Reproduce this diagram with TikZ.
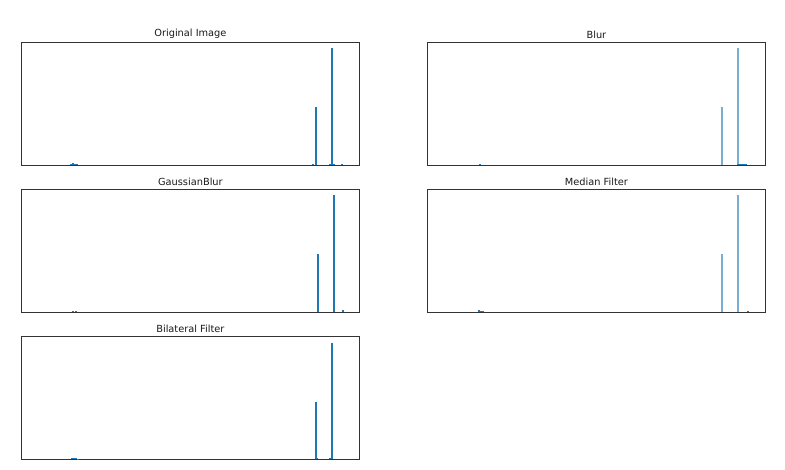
\documentclass[tikz,border=0pt]{standalone}
\usepackage{fontspec}
\setmainfont{DejaVu Sans}
\usepackage{xcolor}
\usetikzlibrary{positioning}
\definecolor{histblue}{HTML}{1F77B4}

\begin{document}
\begin{tikzpicture}[x=1pt, y=-1pt]
    % Tyylit
    \tikzstyle{panel} = [rectangle, draw=black!80, line width=0.8pt, minimum width=338pt, minimum height=123pt, inner sep=0pt, anchor=north west]
    \tikzstyle{plottitle} = [font=\fontsize{9.8}{11}\selectfont, text=black!90, inner sep=0pt]
    \tikzstyle{spike} = [histblue, line width=1.3pt]
    \tikzstyle{fatspike} = [histblue, line width=2.2pt]
    \tikzstyle{softspike} = [histblue!60, line width=1.5pt]
    \tikzstyle{bump} = [histblue, line width=1.5pt]

    \useasboundingbox (0,0) rectangle (785,470);

    % Kehykset
    \node (orig) [panel] at (21,42) {};
    \node (blur) [panel] at (427,42) {};
    \node (gauss) [panel] at (21,189) {};
    \node (median) [panel] at (427,189) {};
    \node (bilat) [panel] at (21,336) {};

    % Otsikot
    \node (origtitle) [plottitle, above=3pt of orig] {Original Image};
    \node (blurtitle) [plottitle, above=3pt of blur] {Blur};
    \node (gausstitle) [plottitle, above=3pt of gauss] {GaussianBlur};
    \node (mediantitle) [plottitle, above=3pt of median] {Median Filter};
    \node (bilattitle) [plottitle, above=3pt of bilat] {Bilateral Filter};

    % Original Image
    \draw [spike] (316,165) -- (316,107);
    \draw [fatspike] (332,165) -- (332,48);
    \draw [bump] (71,165) -- (71,164) (73,165) -- (73,163) (75,165) -- (75,164) (77,165) -- (77,164.3);
    \draw [bump] (313,165) -- (313,164.3) (330,165) -- (330,164) (334,165) -- (334,164) (342,165) -- (342,164.3);

    % Blur
    \draw [softspike] (722,165) -- (722,107);
    \draw [softspike] (738,165) -- (738,48);
    \draw [histblue, line width=1.2pt] (737,164.6) -- (747,164.6);
    \draw [bump] (480,165) -- (480,164.3);

    % GaussianBlur
    \draw [histblue, line width=1.8pt] (318,312) -- (318,254);
    \draw [histblue, line width=1.8pt] (334,312) -- (334,195);
    \draw [bump] (73,312) -- (73,311.3) (76,312) -- (76,311.3) (343,312) -- (343,310.5);

    % Median Filter
    \draw [softspike] (722,312) -- (722,254);
    \draw [softspike] (738,312) -- (738,195);
    \draw [bump] (479,312) -- (479,310) (481,312) -- (481,310.8) (483,312) -- (483,311.2) (748,312) -- (748,311);

    % Bilateral Filter
    \draw [spike] (316,459) -- (316,402);
    \draw [fatspike] (332,459) -- (332,343);
    \draw [bump] (72,459) -- (72,458) (74,459) -- (74,457.5) (76,459) -- (76,458.3) (78,459) -- (78,458.5);
    \draw [bump] (317,459) -- (317,458.4) (330,459) -- (330,458.3);
\end{tikzpicture}
\end{document}
